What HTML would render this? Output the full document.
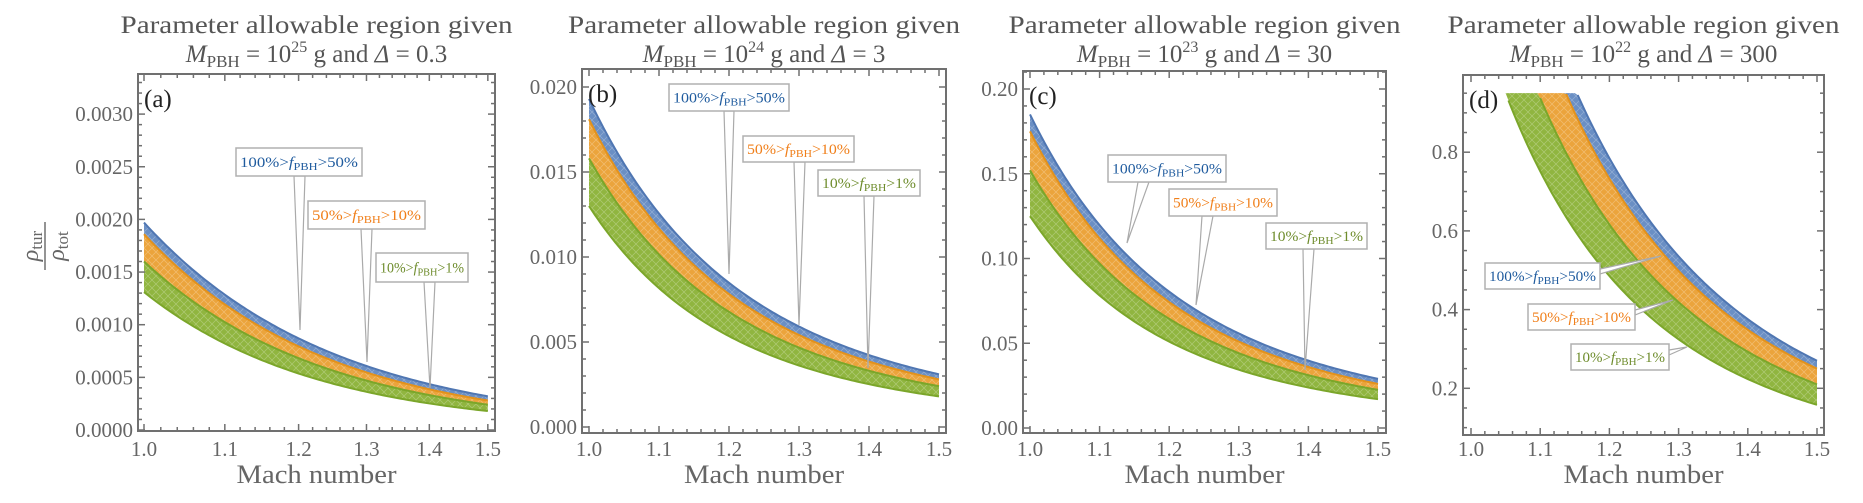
<!DOCTYPE html>
<html><head><meta charset="utf-8">
<style>
html,body{margin:0;padding:0;background:#fff;}
svg{display:block;font-family:"Liberation Serif",serif;}
</style></head>
<body>
<svg id="s" width="1863" height="503" xmlns="http://www.w3.org/2000/svg">
<defs>
<pattern id="hx" width="8" height="8" patternUnits="userSpaceOnUse">
<path d="M0,8 L8,0 M0,0 L8,8" stroke="#fff" stroke-width="0.7" stroke-opacity="0.28"/>
</pattern>
</defs>
<g id="root"></g>
</svg>
<script>
var NS="http://www.w3.org/2000/svg";
var root=document.getElementById('root');
function el(t,a,p){var e=document.createElementNS(NS,t);for(var k in a)e.setAttribute(k,a[k]);(p||root).appendChild(e);return e;}
var FILL=['#6a8fc4','#eba43c','#90b540'], STR=['#4f76b2','#e3921c','#7ba62a'];
var panels=[
 {L:'(a)',fr:[138,74,495,431],x:function(M){return 144+848*Math.log(M);},y:function(v){return 430-v*105300;},
  v1:[0.00197,0.00186,0.00160,0.00131],v15:[0.00032,0.00028,0.00024,0.00018],
  ymaj:[0,0.0005,0.001,0.0015,0.002,0.0025,0.003],ylab:['0.0000','0.0005','0.0010','0.0015','0.0020','0.0025','0.0030'],ymin:0.0001,ymax:0.0033,
  sup:'25',del:'0.3',
  boxes:[[236,148,362,176,294,305,300,330],[308,201,425,229,361,372,367,362],[376,253,468,282,424,435,430,388]]},
 {L:'(b)',fr:[582,69,946,433],x:function(M){return 589+700*(M-1);},y:function(v){return 427-v*17000;},
  v1:[0.0193,0.0181,0.0158,0.0130],v15:[0.0031,0.0028,0.0024,0.0018],
  ymaj:[0,0.005,0.01,0.015,0.02],ylab:['0.000','0.005','0.010','0.015','0.020'],ymin:0.001,ymax:0.0212,
  sup:'24',del:'3',
  boxes:[[669,84,789,111,724,734,729,274],[743,136,854,162,794,805,799,325],[818,170,920,196,864,874,868,368]]},
 {L:'(c)',fr:[1023,71,1386,433],x:function(M){return 1030+696*(M-1);},y:function(v){return 428-v*1695;},
  v1:[0.185,0.175,0.152,0.125],v15:[0.029,0.026,0.0225,0.017],
  ymaj:[0,0.05,0.1,0.15,0.2],ylab:['0.00','0.05','0.10','0.15','0.20'],ymin:0.01,ymax:0.21,
  sup:'23',del:'30',
  boxes:[[1108,155,1226,182,1138,1149,1127,243],[1169,189,1277,216,1202,1213,1196,305],[1266,223,1367,249,1303,1314,1305,370]]},
 {L:'(d)',fr:[1463,75,1824,435],x:function(M){return 1471+692*(M-1);},y:function(v){return 467-v*393.5;},
  d:[[1.153,0.27],[1.137,0.25],[1.097,0.21],[1.05,0.158]],
  ymaj:[0.2,0.4,0.6,0.8],ylab:['0.2','0.4','0.6','0.8'],ymin:0.05,ymax:0.96,yminStart:0.1,
  sup:'22',del:'300',
  boxes:[[1485,263,1600,289,1600,1600,1661,256],[1528,304,1635,330,1635,1635,1673,300],[1571,344,1669,370,1669,1669,1687,347]],side:true}
];
var LT=[['100%','50%','#1f5b9e'],['50%','10%','#f07f1a'],['10%','1%','#6e8c2c']];
panels.forEach(function(P,pi){
 var f=P.fr, cx=(f[0]+f[2])/2;
 var t=el('text',{x:cx,y:33,'text-anchor':'middle','font-size':25,fill:'#555',textLength:392,lengthAdjust:'spacingAndGlyphs'});t.textContent='Parameter allowable region given';
 var t2=el('text',{x:cx,y:62,'text-anchor':'middle','font-size':25,fill:'#555'});
 t2.innerHTML='<tspan font-style="italic">M</tspan><tspan font-size="17" dy="5">PBH</tspan><tspan dy="-5"> = 10</tspan><tspan font-size="16" dy="-10">'+P.sup+'</tspan><tspan dy="10"> g  and  </tspan><tspan font-style="italic">Δ</tspan><tspan> = '+P.del+'</tspan>';
 var fn=[];
 if(P.d){P.d.forEach(function(q){var n=Math.log(0.95/q[1])/Math.log(1.5/q[0]);var c=0.95*Math.pow(q[0],n);fn.push(function(M){return Math.min(0.95,c*Math.pow(M,-n));});});}
 else{for(var i=0;i<4;i++){(function(a,b){var n=Math.log(a/b)/Math.log(1.5);fn.push(function(M){return a*Math.pow(M,-n);});})(P.v1[i],P.v15[i]);}}
 var N=120;
 function pts(g,rev){var a=[];for(var k=0;k<=N;k++){var M=1+0.5*k/N;a.push(P.x(M).toFixed(2)+','+P.y(g(M)).toFixed(2));}if(rev)a.reverse();return a;}
 for(var b=0;b<3;b++){
  var d='M'+pts(fn[b]).join(' L')+' L'+pts(fn[b+1],true).join(' L')+'Z';
  el('path',{d:d,fill:FILL[b]});
  el('path',{d:d,fill:'url(#hx)'});
 }
 for(var b=0;b<4;b++){
  var col=b==0?STR[0]:(b==1?STR[1]:STR[2]);
  var segs=[],cur=[];
  for(var k=0;k<=N;k++){var M=1+0.5*k/N,v=fn[b](M);if(P.d&&v>=0.9499){if(cur.length>1)segs.push(cur);cur=[];continue;}cur.push(P.x(M).toFixed(2)+','+P.y(v).toFixed(2));}
  if(cur.length>1)segs.push(cur);
  segs.forEach(function(s){el('polyline',{points:s.join(' '),fill:'none',stroke:col,'stroke-width':2});});
 }
 el('rect',{x:f[0],y:f[1],width:f[2]-f[0],height:f[3]-f[1],fill:'none',stroke:'#707070','stroke-width':2});
 var ys=P.yminStart||0;
 for(var v=ys;v<=P.ymax+1e-12;v+=P.ymin){
  var yy=P.y(v);if(yy<f[1]+1||yy>f[3]-1)continue;
  var maj=P.ymaj.some(function(m){return Math.abs(m-v)<P.ymin/10;});
  var L=maj?7:4;
  el('line',{x1:f[0],y1:yy,x2:f[0]+L,y2:yy,stroke:'#707070','stroke-width':1.5});
  el('line',{x1:f[2],y1:yy,x2:f[2]-L,y2:yy,stroke:'#707070','stroke-width':1.5});
 }
 P.ymaj.forEach(function(m,i){var tt=el('text',{x:f[0]-5,y:P.y(m)+7,'text-anchor':'end','font-size':21,fill:'#666'});tt.textContent=P.ylab[i];});
 for(var k=0;k<=25;k++){var M=1+k*0.02;var xx=P.x(M);var maj=k%5==0;var L=maj?7:4;
  el('line',{x1:xx,y1:f[3],x2:xx,y2:f[3]-L,stroke:'#707070','stroke-width':1.5});
  el('line',{x1:xx,y1:f[1],x2:xx,y2:f[1]+L,stroke:'#707070','stroke-width':1.5});
  if(maj){var tt=el('text',{x:xx,y:456,'text-anchor':'middle','font-size':21,fill:'#666'});tt.textContent=M.toFixed(1);}
 }
 var mx=el('text',{x:cx,y:483,'text-anchor':'middle','font-size':26,fill:'#666',textLength:160,lengthAdjust:'spacingAndGlyphs'});mx.textContent='Mach number';
 var pl=el('text',{x:f[0]+6,y:f[1]+33,'font-size':25,fill:'#222'});pl.textContent=P.L;
 P.boxes.forEach(function(B,i){
  if(P.side){
   el('polygon',{points:B[2]+','+(B[1]+6)+' '+B[6]+','+B[7]+' '+B[2]+','+(B[1]+11),fill:'#fff',stroke:'#aaa','stroke-width':1.2});
  }else{
   el('polygon',{points:B[4]+','+B[3]+' '+B[6]+','+B[7]+' '+B[5]+','+B[3],fill:'#fff',stroke:'#aaa','stroke-width':1.2});
  }
  el('rect',{x:B[0],y:B[1],width:B[2]-B[0],height:B[3]-B[1],fill:'#fff',stroke:'#b0b0b0','stroke-width':1.5});
  var tx=el('text',{x:(B[0]+B[2])/2,y:(B[1]+B[3])/2+5,'text-anchor':'middle','font-size':15,fill:LT[i][2],textLength:(B[2]-B[0]-8),lengthAdjust:'spacingAndGlyphs'});
  tx.innerHTML=LT[i][0]+'&gt;<tspan font-style="italic">f</tspan><tspan font-size="11" dy="3">PBH</tspan><tspan dy="-3">&gt;'+LT[i][1]+'</tspan>';
 });
});
var g=el('g',{transform:'translate(45,246) rotate(-90)'});
var a=el('text',{x:0,y:-7,'text-anchor':'middle','font-size':24,fill:'#666'},g);a.innerHTML='<tspan font-style="italic">ρ</tspan><tspan font-size="17" dy="4">tur</tspan>';
el('line',{x1:-24,y1:0,x2:24,y2:0,stroke:'#666','stroke-width':1.4},g);
var b2=el('text',{x:0,y:19,'text-anchor':'middle','font-size':24,fill:'#666'},g);b2.innerHTML='<tspan font-style="italic">ρ</tspan><tspan font-size="17" dy="4">tot</tspan>';
</script>
</body></html>
